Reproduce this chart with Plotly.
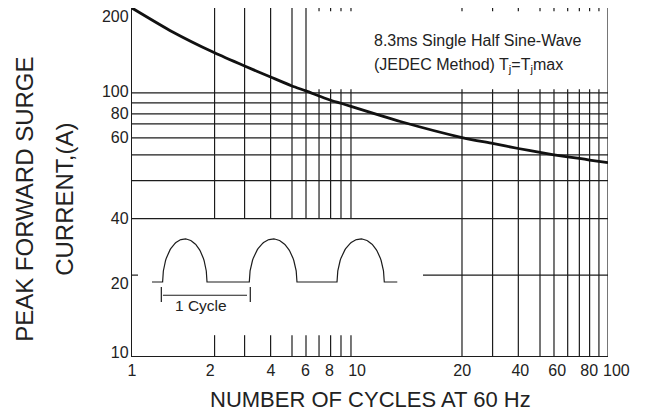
import numpy as np
import plotly.graph_objects as go

# ---- data (positions on the printed log-log chart) ----
CYCLES = [1.0, 1.476, 2.223, 2.972, 3.823, 4.702, 5.384, 6.107, 6.831, 7.553, 8.319,
          13.41, 24.35, 32.74, 42.0, 51.8, 59.3, 67.7, 75.8, 83.7, 100.0]
SURGE_A = [210.4, 171.0, 142.1, 126.6, 115.0, 106.3, 101.8, 97.4, 93.8, 91.4, 88.9,
           77.9, 67.7, 64.3, 61.5, 59.4, 58.2, 57.2, 56.4, 55.6, 54.3]

X_TICK_TEXT = ["1", "2", "4", "6", "8", "10", "20", "40", "60", "80"]
X_TICK_AT = [1.0, 2.13, 3.84, 5.35, 6.75, 8.82, 24.4, 42.8, 61.2, 83.4]
Y_TICK_TEXT = ["10", "20", "40", "60", "80", "100", "200"]
Y_TICK_AT = [10.3, 18.9, 33.3, 67.5, 83.3, 101.8, 195.0]

X_GRID_TO_TOP = [2.223, 2.972, 3.823, 4.702, 5.384]
X_GRID_UNDER_NOTE = [6.107, 6.831, 7.553, 8.319]
X_GRID_RIGHT = [24.35, 32.74, 42.0, 51.8, 59.3, 67.7, 75.8, 83.7, 91.6]
Y_GRID = [33.3, 46.4, 58.2, 67.5, 76.3, 83.3, 91.7, 100.0]
Y_GRID_20 = 20.3

X_MIN, X_MAX = 1.0, 100.0
Y_MIN, Y_MAX = 10.0, 210.4
Y_INSET_BOTTOM, Y_INSET_TOP = 12.0, 33.3
Y_NOTE_BOTTOM, Y_TOP_TICK = 103.3, 204.5

LINE = "#1c1c1c"
TXT = "#222222"
FONT = "Liberation Sans, Arial, sans-serif"

# ---- grid segments ----
gx, gy = [], []
def seg(x0, x1, y0, y1):
    gx.extend([x0, x1, None]); gy.extend([y0, y1, None])

for v in X_GRID_TO_TOP:
    seg(v, v, Y_MIN, Y_INSET_BOTTOM)
    seg(v, v, Y_INSET_TOP, Y_MAX)
for v in X_GRID_UNDER_NOTE:
    seg(v, v, Y_MIN, Y_INSET_BOTTOM)
    seg(v, v, Y_INSET_TOP, Y_NOTE_BOTTOM)
    seg(v, v, Y_TOP_TICK, Y_MAX)
for v in X_GRID_RIGHT:
    seg(v, v, Y_MIN, Y_NOTE_BOTTOM)
    seg(v, v, Y_TOP_TICK, Y_MAX)
seg(X_MAX, X_MAX, Y_MIN, Y_MAX)
for v in Y_GRID:
    seg(X_MIN, X_MAX, v, v)
seg(X_MIN, 1.06, Y_GRID_20, Y_GRID_20)
seg(16.7, X_MAX, Y_GRID_20, Y_GRID_20)

fig = go.Figure()
fig.add_trace(go.Scatter(x=gx, y=gy, mode="lines", line=dict(color=LINE, width=1.2),
                         hoverinfo="skip", showlegend=False))
fig.add_trace(go.Scatter(x=CYCLES, y=SURGE_A, mode="lines",
                         line=dict(color="#111111", width=2.8, shape="spline", smoothing=0.6),
                         showlegend=False))

# ---- inset waveform illustration (fractional plot-area units) ----
base, amp = 0.2127, 0.1237
pulses = [(0.0643, 0.1576), (0.2464, 0.3466), (0.4307, 0.5300)]
wx, wy = [0.0420], [base]
for a, b in pulses:
    t = np.linspace(-1, 1, 61)
    c, r = (a + b) / 2, (b - a) / 2
    wx.extend(list(c + r * t)); wy.extend(list(base + amp * np.sqrt(np.clip(1 - t ** 2, 0, 1))))
wx.append(0.5573); wy.append(base)
fig.add_trace(go.Scatter(x=wx, y=wy, mode="lines", line=dict(color=LINE, width=1.2),
                         xaxis="x2", yaxis="y2", hoverinfo="skip", showlegend=False))
bx = [0.0616, 0.0616, None, 0.2485, 0.2485, None, 0.0649, 0.2416]
by = [0.1555, 0.1984, None, 0.1555, 0.1984, None, 0.1746, 0.1746]
fig.add_trace(go.Scatter(x=bx, y=by, mode="lines", line=dict(color=LINE, width=1.2),
                         xaxis="x2", yaxis="y2", hoverinfo="skip", showlegend=False))

# page body has an 8px default margin, so the figure is 8px smaller and shifted
tickfont = dict(family=FONT, size=16, color=TXT)
fig.update_layout(
    width=641, height=408,
    margin=dict(l=123.7, r=41.3, t=0, b=60, autoexpand=False),
    paper_bgcolor="white", plot_bgcolor="white",
    xaxis=dict(type="log", range=[0, 2], tickvals=X_TICK_AT, ticktext=X_TICK_TEXT,
               showgrid=False, zeroline=False, showline=True, linecolor=LINE, linewidth=1.4,
               ticks="", tickfont=tickfont, automargin=False, ticklabeloverflow="allow"),
    yaxis=dict(type="log", range=[1, np.log10(Y_MAX)], tickvals=Y_TICK_AT, ticktext=Y_TICK_TEXT,
               showgrid=False, zeroline=False, showline=True, linecolor=LINE, linewidth=1.4,
               ticks="", tickfont=tickfont, automargin=False, ticklabelstandoff=-1,
               ticklabeloverflow="allow"),
    xaxis2=dict(overlaying="x", range=[0, 1], visible=False, automargin=False),
    yaxis2=dict(overlaying="y", range=[0, 1], visible=False, automargin=False),
)

ann = [
    dict(text="100", x=1.0174, y=-0.012, xanchor="center", yanchor="top", font=tickfont),
    dict(text="8.3ms Single Half Sine-Wave", x=0.5042, y=0.9075, xanchor="left", yanchor="middle",
         font=dict(family=FONT, size=16, color=TXT)),
    dict(text="(JEDEC Method) T<sub>j</sub>=T<sub>j</sub>max", x=0.5042, y=0.836, xanchor="left",
         yanchor="middle", font=dict(family=FONT, size=16, color=TXT)),
    dict(text="1 Cycle", x=0.1456, y=0.146, xanchor="center", yanchor="middle",
         font=dict(family=FONT, size=15.5, color=TXT)),
    dict(text="PEAK FORWARD SURGE", x=-0.2273, y=0.451, textangle=-90, xanchor="center",
         yanchor="middle", font=dict(family=FONT, size=24, color=TXT)),
    dict(text="CURRENT,(A)", x=-0.1433, y=0.451, textangle=-90, xanchor="center",
         yanchor="middle", font=dict(family=FONT, size=24, color=TXT)),
    dict(text="NUMBER OF CYCLES AT 60 Hz", x=0.5006, y=-0.126, xanchor="center", yanchor="middle",
         font=dict(family=FONT, size=22, color=TXT)),
]
for a in ann:
    a.update(xref="paper", yref="paper", showarrow=False)
fig.update_layout(annotations=ann)

fig.write_html("out.html")
